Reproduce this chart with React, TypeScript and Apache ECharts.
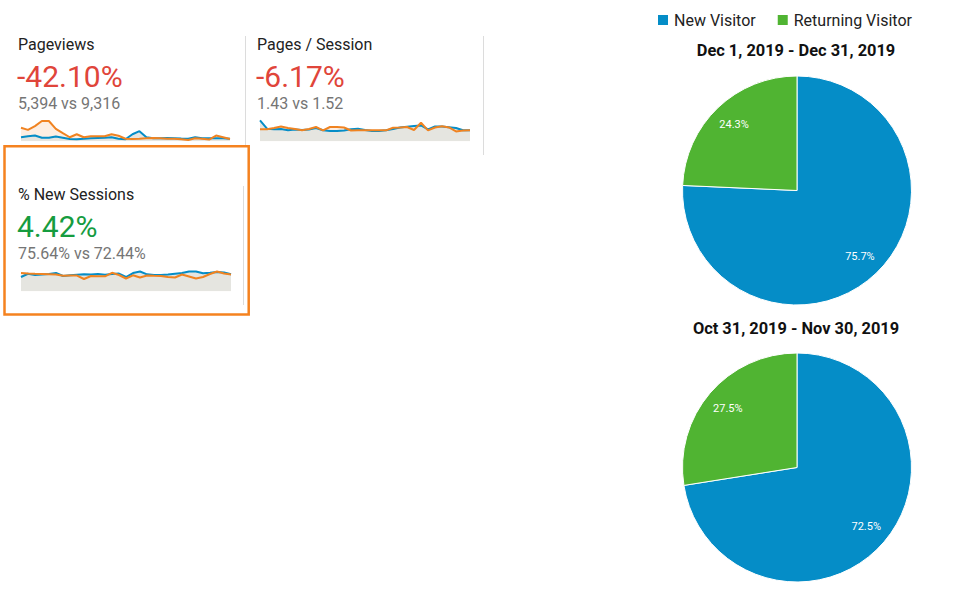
import React, { useEffect, useRef } from 'react';
import * as echarts from 'echarts';

// ---- data ----
const days = ['1','2','3','4','5','6','7','8','9','10','11','12','13','14','15','16','17','18','19','20','21','22','23','24','25','26','27','28','29','30','31'];

const pageviewsCurrent = [200,250,285,175,175,235,175,115,100,125,150,165,175,200,125,100,350,500,200,150,150,165,150,135,125,200,150,150,150,150,125];
const pageviewsPrevious = [665,565,750,1000,1000,615,400,200,350,200,250,250,250,350,275,125,115,125,150,165,150,125,125,100,65,150,125,85,285,200,115];

const pagesPerSessionCurrent = [2.52,1.51,1.44,1.48,1.32,1.42,1.36,1.42,1.60,1.32,1.24,1.24,1.30,1.44,1.51,1.36,1.24,1.24,1.32,1.48,1.66,1.75,1.84,1.90,1.42,1.78,1.78,1.69,1.60,1.32,1.32];
const pagesPerSessionPrevious = [1.44,1.44,1.60,1.78,1.60,1.48,1.32,1.48,1.72,1.32,1.72,1.72,1.66,1.30,1.32,1.32,1.32,1.32,1.32,1.63,1.66,1.72,1.36,2.23,1.32,1.66,1.80,1.66,1.18,1.30,1.32];

const newSessionsCurrent = [64.4,79.2,73.4,75.6,77.9,82.4,68.9,72.0,74.3,76.5,75.6,77.9,74.7,77.9,80.1,64.4,82.4,89.1,76.5,73.4,73.4,75.6,79.2,82.4,89.1,89.1,81.0,83.3,86.9,84.6,76.5];
const newSessionsPrevious = [82.4,80.1,78.8,77.9,77.0,75.6,69.8,71.1,71.1,55.4,68.9,68.0,67.5,83.3,73.4,57.6,72.0,62.1,71.1,69.8,68.9,64.4,62.1,75.6,66.6,57.6,64.4,77.9,89.1,80.1,75.6];

const metricTitles = ['Pageviews', 'Pages / Session', '% New Sessions'];
const metricChanges = ['-42.10%', '-6.17%', '4.42%'];
const metricCompare = ['5,394 vs 9,316', '1.43 vs 1.52', '75.64% vs 72.44%'];

const visitorTypes = ['New Visitor', 'Returning Visitor'];
const decShares = [75.7, 24.3];
const novShares = [72.5, 27.5];
const pieTitles = ['Dec 1, 2019 - Dec 31, 2019', 'Oct 31, 2019 - Nov 30, 2019'];

// ---- styles ----
const BLUE = '#058dc7';
const GREEN = '#50b432';
const ORANGE = '#f08321';
const RED = '#e0453a';
const POS = '#169c3f';
const FONT = 'Roboto, Arial, sans-serif';

function sparkSeries(gi: number, current: number[], previous: number[]) {
  const base = { type: 'line', xAxisIndex: gi, yAxisIndex: gi, symbol: 'none', silent: true, smooth: false };
  return [
    { ...base, data: previous, lineStyle: { opacity: 0, width: 0 }, areaStyle: { color: '#fdeee2', opacity: 1 }, z: 1 },
    { ...base, data: current, lineStyle: { opacity: 0, width: 0 }, areaStyle: { color: '#e5e5e0', opacity: 1 }, z: 2 },
    { ...base, data: current, lineStyle: { color: BLUE, width: 2 }, z: 3 },
    { ...base, data: previous, lineStyle: { color: ORANGE, width: 2 }, z: 4 },
  ];
}

function txt(text: string, x: number, y: number, size: number, color: string, weight = 'normal', align = 'left') {
  return {
    type: 'text', x, y, silent: true,
    style: { text, fill: color, fontSize: size, fontFamily: FONT, fontWeight: weight, align, verticalAlign: 'middle' },
  };
}

function vline(x: number, y1: number, y2: number) {
  return { type: 'line', silent: true, shape: { x1: x, y1, x2: x, y2 }, style: { stroke: '#dcdcdc', lineWidth: 1 } };
}

const cards = [
  { x: 18, y: 44 },
  { x: 257, y: 44 },
  { x: 18, y: 194 },
];

function pieSeries(center: number[], values: number[]) {
  const data = visitorTypes.map((n, i) => ({ name: n, value: values[i] }));
  return [
    {
      type: 'pie', center, radius: [0, 114.5], startAngle: 90, clockwise: true, silent: true,
      data, label: { show: false }, labelLine: { show: false },
      itemStyle: { borderColor: '#fff', borderWidth: 1 },
      color: [BLUE, GREEN],
    },
    {
      type: 'pie', center, radius: [60, 116], startAngle: 90, clockwise: true, silent: true,
      data: data.map((d) => ({ ...d, itemStyle: { color: 'rgba(0,0,0,0)' } })),
      itemStyle: { color: 'rgba(0,0,0,0)', borderWidth: 0 },
      label: {
        show: true, position: 'inside', color: '#fff', fontSize: 11, fontFamily: FONT,
        formatter: (p: any) => p.value.toFixed(1) + '%',
      },
      labelLine: { show: false },
      emphasis: { disabled: true },
    },
  ];
}

export default function App() {
  const ref = useRef<HTMLDivElement>(null);
  useEffect(() => {
    if (!ref.current) return;
    const chart = echarts.init(ref.current, null, { renderer: 'svg' });
    const graphics: any[] = [];
    cards.forEach((c, i) => {
      graphics.push(txt(metricTitles[i], c.x, c.y, 16, '#222'));
      graphics.push(txt(metricChanges[i], c.x - 1, c.y + 32, 30, i === 2 ? POS : RED));
      graphics.push(txt(metricCompare[i], c.x, c.y + 59, 16, '#757575'));
    });
    graphics.push(vline(245.5, 36, 146));
    graphics.push(vline(483.5, 36, 155));
    graphics.push(vline(243.5, 186, 305));
    graphics.push({
      type: 'rect', silent: true,
      shape: { x: 4.5, y: 146.2, width: 244.2, height: 168.3 },
      style: { fill: 'none', stroke: '#f5821f', lineWidth: 2.5 },
      z: 10,
    });
    graphics.push(txt(pieTitles[0], 796, 50, 16.4, '#111', 'bold', 'center'));
    graphics.push(txt(pieTitles[1], 796, 328, 16.4, '#111', 'bold', 'center'));

    const grids = [
      { left: 21, top: 118, width: 209, height: 23.3 },
      { left: 260, top: 118, width: 210, height: 23.3 },
      { left: 21, top: 268, width: 210, height: 23.3 },
    ];
    const maxes = [1150, 2.8, 105];

    const option: any = {
      animation: false,
      backgroundColor: '#fff',
      color: [BLUE, GREEN],
      legend: {
        data: visitorTypes, left: 651, top: 7, icon: 'rect', itemWidth: 12, itemHeight: 12, itemGap: 20,
        textStyle: { fontSize: 16, color: '#222', fontFamily: FONT }, selectedMode: false,
      },
      grid: grids,
      xAxis: grids.map((_, i) => ({ type: 'category', gridIndex: i, data: days, boundaryGap: false, show: false })),
      yAxis: grids.map((_, i) => ({ type: 'value', gridIndex: i, min: 0, max: maxes[i], show: false })),
      graphic: graphics,
      series: [
        ...sparkSeries(0, pageviewsCurrent, pageviewsPrevious),
        ...sparkSeries(1, pagesPerSessionCurrent, pagesPerSessionPrevious),
        ...sparkSeries(2, newSessionsCurrent, newSessionsPrevious),
        ...pieSeries([797, 190.5], decShares),
        ...pieSeries([797, 467.5], novShares),
      ],
    };
    chart.setOption(option);
    return () => chart.dispose();
  }, []);
  return <div ref={ref} style={{ position: 'fixed', left: 0, top: 0, width: 960, height: 607, background: '#fff' }} />;
}
